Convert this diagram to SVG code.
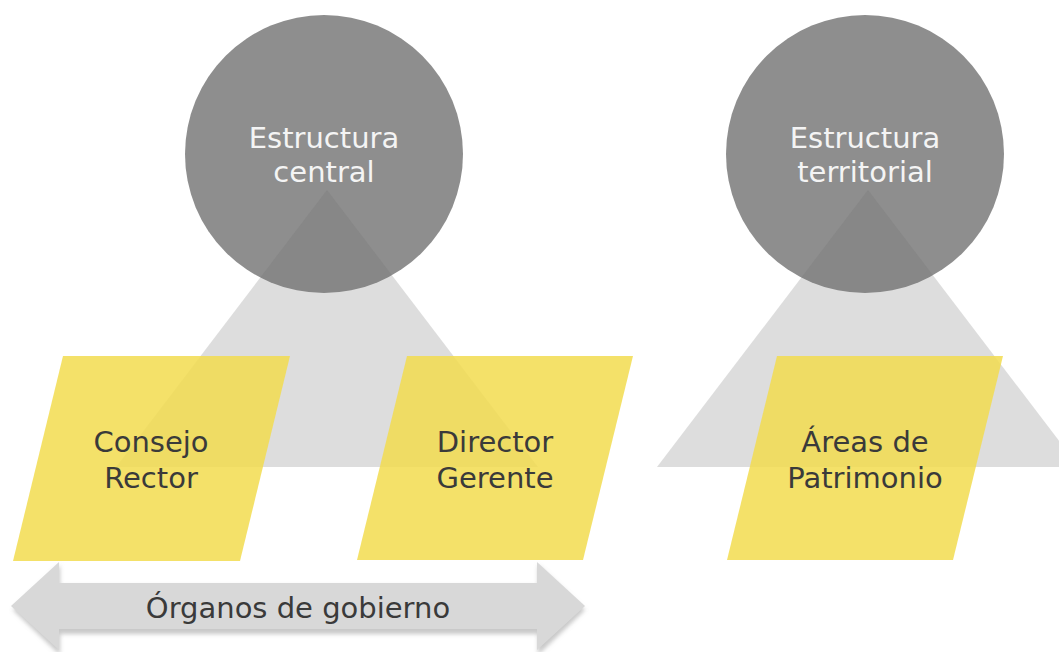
<svg xmlns="http://www.w3.org/2000/svg" width="1059" height="652" viewBox="0 0 1059 652">
  <defs>
    <style>
      .circle { fill: #8E8E8E; }
      .tri { fill: #717171; fill-opacity: 0.24; }
      .para { fill: #F2DC50; fill-opacity: 0.86; }
      .ctext { font-family: "DejaVu Sans", Verdana, sans-serif; font-size: 29px; fill: #F4F4F4; text-anchor: middle; }
      .ptext { font-family: "DejaVu Sans", Verdana, sans-serif; font-size: 29px; fill: #3A3A3A; text-anchor: middle; }
      .arrow { fill: #D8D8D8; }
      .arrow-shadow { fill: #9A9A9A; fill-opacity: 0.55; }
    </style>
    <filter id="blur" x="-5%" y="-20%" width="110%" height="140%">
      <feGaussianBlur stdDeviation="2"/>
    </filter>
  </defs>
  <rect width="1059" height="652" fill="#FFFFFF"/>

  <g id="estructura-central">
    <circle class="circle" cx="324" cy="154" r="139"/>
    <text class="ctext" x="324" y="148">Estructura</text>
    <text class="ctext" x="324" y="182">central</text>
  </g>

  <g id="estructura-territorial">
    <circle class="circle" cx="865" cy="154" r="139"/>
    <text class="ctext" x="865" y="148">Estructura</text>
    <text class="ctext" x="865" y="182">territorial</text>
  </g>

  <g id="triangulo-central">
    <polygon class="tri" points="327,190 538,467 116,467"/>
  </g>

  <g id="triangulo-territorial">
    <polygon class="tri" points="868,190 1079,467 657,467"/>
  </g>

  <g id="consejo-rector">
    <polygon class="para" points="63,356 290,356 240,561 13,561"/>
    <text class="ptext" x="151" y="452">Consejo</text>
    <text class="ptext" x="151" y="488">Rector</text>
  </g>

  <g id="director-gerente">
    <polygon class="para" points="407,356 633,356 583,560 357,560"/>
    <text class="ptext" x="495" y="452">Director</text>
    <text class="ptext" x="495" y="488">Gerente</text>
  </g>

  <g id="areas-patrimonio">
    <polygon class="para" points="777,356 1003,356 953,560 727,560"/>
    <text class="ptext" x="865" y="452">Áreas de</text>
    <text class="ptext" x="865" y="488">Patrimonio</text>
  </g>

  <g id="connectors">
    <g id="organos-de-gobierno">
      <path class="arrow-shadow" filter="url(#blur)" d="M 13,610 L 60,565 L 60,586 L 538,586 L 538,565 L 585,610 L 538,655 L 538,634 L 60,634 L 60,655 Z"/>
      <path class="arrow" d="M 11,606 L 59,562 L 59,583 L 537,583 L 537,562 L 585,606 L 537,650 L 537,629 L 59,629 L 59,650 Z"/>
      <text class="ptext" x="298" y="618">Órganos de gobierno</text>
    </g>
  </g>
</svg>
